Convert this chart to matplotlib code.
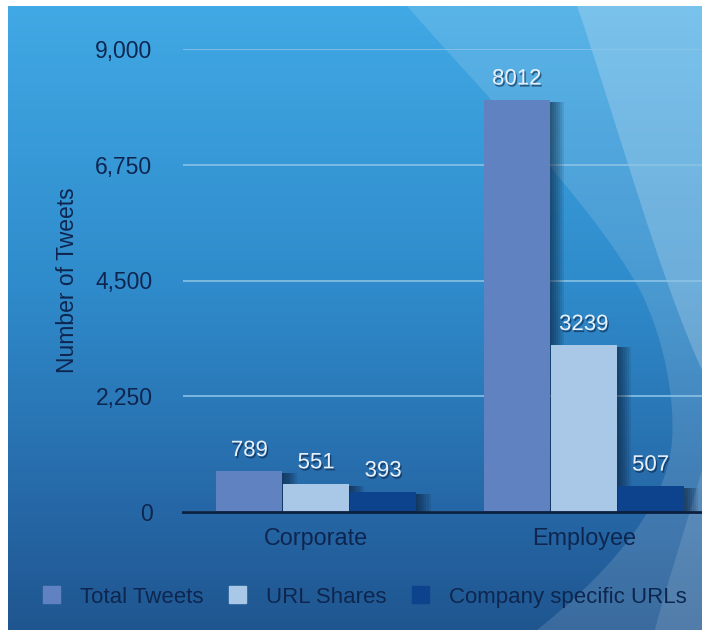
import numpy as np
import matplotlib
matplotlib.use('agg')
import matplotlib.pyplot as plt
import matplotlib.patheffects as pe
from matplotlib.colors import LinearSegmentedColormap
from matplotlib.path import Path
from matplotlib.patches import PathPatch, Patch

plt.rcParams['font.family'] = ['Liberation Sans', 'DejaVu Sans']

groups = ['Corporate', 'Employee']
series = ['Total Tweets', 'URL Shares', 'Company specific URLs']
total_tweets = [789, 8012]
url_shares = [551, 3239]
company_urls = [393, 507]
yticks = [0, 2250, 4500, 6750, 9000]

colors = ['#6082c0', '#a9c7e7', '#0d428c']
text_dark = '#0e264f'

W, H = 702, 630
fig = plt.figure(figsize=(W/100, H/100), dpi=100, facecolor='white')

# backdrop drawn in pixel units: blue gradient plus pale swooshes on the right
bg = fig.add_axes([8/W, 0, (W-8)/W, (H-6)/H])
cmap = LinearSegmentedColormap.from_list('bgblue', [(0, '#41a9e5'), (0.45, '#2f8bcb'),
                                                    (0.8, '#2668a7'), (1, '#1f5690')])
bg.imshow(np.linspace(0, 1, 256)[:, None], cmap=cmap, aspect='auto', extent=(8, W, H, 6))
bg.set_xlim(8, W)
bg.set_ylim(H, 6)
bg.axis('off')

M, C, L, X = Path.MOVETO, Path.CURVE4, Path.LINETO, Path.CLOSEPOLY

def swoosh(verts, codes, alpha):
    bg.add_patch(PathPatch(Path(verts, codes), facecolor='white', edgecolor='none', alpha=alpha))

swoosh([(407, 6), (480, 90), (590, 200), (640, 290), (665, 340), (675, 400), (672, 440),
        (668, 510), (600, 580), (537, 630), (W, 630), (W, 6), (407, 6)],
       [M, C, C, C, C, C, C, C, C, C, L, L, X], 0.13)
swoosh([(577, 6), (610, 100), (660, 280), (W, 370), (W, 6), (577, 6)],
       [M, C, C, C, L, X], 0.2)
swoosh([(W, 470), (685, 530), (665, 590), (655, 630), (W, 630), (W, 470)],
       [M, C, C, C, L, X], 0.12)

ax = fig.add_axes([183/W, 118/H, 519/W, 463/H])
ax.set_facecolor('none')

bar_shadow = [pe.SimplePatchShadow(offset=(d, -1.5), shadow_rgbFace='#06142a', alpha=0.1)
              for d in (1.5, 3, 4.5, 6, 7.5, 9, 10.5)] + [pe.Normal()]
text_shadow = [pe.withSimplePatchShadow(offset=(1, -1.5), shadow_rgbFace='#0b2345', alpha=0.6)]

x = np.arange(len(groups))
width = 0.246
offset = 0.25
for i, (vals, col) in enumerate(zip([total_tweets, url_shares, company_urls], colors)):
    bars = ax.bar(x + (i - 1) * offset, vals, width, color=col, zorder=2 + i * 0.1)
    for b, v in zip(bars, vals):
        b.set_path_effects(bar_shadow)
        ax.annotate(str(v), (b.get_x() + b.get_width() / 2, v), xytext=(0, 15),
                    textcoords='offset points', ha='center', va='center', fontsize=16,
                    color='#e8f0fa', zorder=5, path_effects=text_shadow)

ax.set_xlim(-0.498, 1.442)
ax.set_ylim(0, 9000)
ax.set_yticks(yticks)
ax.set_yticklabels([f'{v:,}' for v in yticks])
ax.set_xticks(x, groups)
ax.tick_params(axis='y', length=0, pad=22, labelsize=16.5, labelcolor=text_dark)
ax.tick_params(axis='x', length=0, pad=11, labelsize=16.8, labelcolor=text_dark)
ax.yaxis.grid(True, color='#8cc3e6', lw=1.3, alpha=0.9)
ax.set_axisbelow(True)
for s in ('top', 'left', 'right'):
    ax.spines[s].set_visible(False)
ax.spines['bottom'].set_color('#0b1f3f')
ax.spines['bottom'].set_linewidth(2)

ax.set_ylabel('Number of Tweets', fontsize=16.5, color=text_dark)
ax.yaxis.set_label_coords(-0.2, 0.5)

handles = [Patch(color=c) for c in colors]
fig.legend(handles, series, loc='center left', bbox_to_anchor=(43/W, 1 - 597/H),
           ncol=3, frameon=False, fontsize=16, handlelength=0.77, handleheight=0.77,
           handletextpad=0.9, columnspacing=1.15, borderpad=0, borderaxespad=0,
           labelcolor=text_dark)

fig.savefig('out.png', dpi=100)
